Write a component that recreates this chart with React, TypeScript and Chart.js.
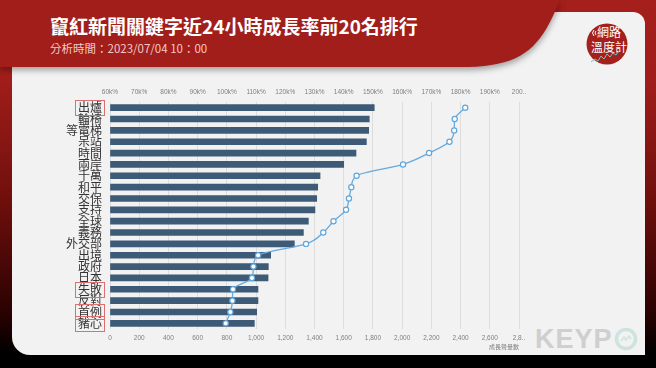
import React, { useEffect, useRef } from "react";
import { Chart, registerables } from "chart.js";

Chart.register(...registerables);

const categories = [
  "出爐", "輪椅", "等電梯", "呆站", "時間", "兩岸", "千萬", "和平", "交保", "支持",
  "全球", "義務", "外交部", "出境", "政府", "日本", "失敗", "反對", "首例", "豬心",
];

// 成長聲量數 (bars, bottom axis)
const volumeValues = [
  1809, 1775, 1771, 1755, 1684, 1600, 1438, 1422, 1415, 1403,
  1358, 1324, 1262, 1100, 1084, 1082, 1013, 1013, 1004, 988,
];

// 成長率 in % (line, top axis)
const growthRates = [
  181600, 178000, 177800, 176200, 169200, 160300, 144400, 142600, 141800, 140800,
  136500, 133000, 127100, 110700, 109100, 108600, 102100, 101900, 101200, 99600,
];

const bottomTickLabels = [
  "0", "200", "400", "600", "800", "1,000", "1,200", "1,400", "1,600", "1,800",
  "2,000", "2,200", "2,400", "2,600", "2,8..",
];

const topTickLabels = [
  "60k%", "70k%", "80k%", "90k%", "100k%", "110k%", "120k%", "130k%", "140k%", "150k%",
  "160k%", "170k%", "180k%", "190k%", "200..",
];

const highlighted = ["出爐", "失敗", "首例", "豬心"];

const CJK = '"Noto Sans CJK TC", "Noto Sans CJK SC", sans-serif';
const labelFont = { family: CJK, size: 12, lineHeight: 1 };
const tickFont = { family: '"Liberation Sans", "DejaVu Sans", sans-serif', size: 6.5 };
const LABEL_PAD = 8;

const highlightPlugin = {
  id: "labelHighlight",
  afterDraw(chart: any) {
    const ys = chart.scales.y;
    const ctx = chart.ctx as CanvasRenderingContext2D;
    ctx.save();
    ctx.font = `${labelFont.size}px ${labelFont.family}`;
    ctx.strokeStyle = "#dc6f6f";
    ctx.lineWidth = 1;
    categories.forEach((c, i) => {
      if (!highlighted.includes(c)) return;
      const y = ys.getPixelForTick(i);
      const w = ctx.measureText(c).width;
      const right = ys.right - LABEL_PAD;
      const x0 = Math.round(right - w - 2.5) + 0.5;
      const y0 = Math.round(y - 7.5) + 0.5;
      ctx.strokeRect(x0, y0, Math.round(w + 5), 15);
    });
    ctx.restore();
  },
};

export default function App() {
  const ref = useRef<HTMLCanvasElement>(null);

  useEffect(() => {
    if (!ref.current) return;
    const chart = new Chart(ref.current, {
      type: "bar",
      data: {
        labels: categories,
        datasets: [
          {
            type: "line",
            label: "成長率",
            data: growthRates,
            xAxisID: "x2",
            yAxisID: "y",
            borderColor: "#64aadf",
            borderWidth: 1.3,
            pointRadius: 2.6,
            pointBorderWidth: 1.2,
            pointBackgroundColor: "#ffffff",
            pointBorderColor: "#5fa6dc",
            cubicInterpolationMode: "monotone",
            fill: false,
            order: 0,
          } as any,
          {
            type: "bar",
            label: "成長聲量數",
            data: volumeValues,
            xAxisID: "x",
            yAxisID: "y",
            backgroundColor: "#3d5a77",
            barThickness: 6,
            order: 1,
          } as any,
        ],
      },
      options: {
        indexAxis: "y",
        responsive: false,
        animation: false,
        layout: { padding: { left: 0, right: 137, top: 0, bottom: 0 } },
        plugins: { legend: { display: false }, tooltip: { enabled: false } },
        scales: {
          y: {
            position: "left",
            grid: { display: false, drawTicks: false },
            border: { display: false },
            ticks: { autoSkip: false, padding: LABEL_PAD, color: "#333333", font: labelFont },
            afterFit: (s: any) => { s.width = 110; },
          },
          x: {
            position: "bottom",
            min: 0,
            max: 2800,
            grid: { color: "#dddddd", drawTicks: false, lineWidth: 1 },
            border: { display: false },
            ticks: {
              stepSize: 200,
              autoSkip: false,
              maxRotation: 0,
              padding: 5,
              color: "#808080",
              font: tickFont,
              callback: (_v: any, i: number) => bottomTickLabels[i],
            },
            title: {
              display: true,
              text: "成長聲量數",
              align: "end",
              color: "#808080",
              font: { family: CJK, size: 6 },
              padding: { top: 0, bottom: 18 },
            },
            afterFit: (s: any) => { s.height = 39; },
          },
          x2: {
            position: "top",
            min: 60000,
            max: 200000,
            grid: { display: false, drawTicks: false },
            border: { display: false },
            ticks: {
              stepSize: 10000,
              autoSkip: false,
              maxRotation: 0,
              padding: 6,
              color: "#808080",
              font: tickFont,
              callback: (_v: any, i: number) => topTickLabels[i],
            },
            afterFit: (s: any) => { s.height = 102; },
          },
        } as any,
      },
      plugins: [highlightPlugin],
    });
    return () => chart.destroy();
  }, []);

  return (
    <div
      style={{
        position: "fixed",
        left: 0,
        top: 0,
        width: 656,
        height: 368,
        overflow: "hidden",
        background:
          "linear-gradient(180deg, #a51f1c 0%, #a01d1a 22%, #6e0f0c 55%, #2a0202 85%, #000000 96%)",
        fontFamily: CJK,
      }}
    >
      {/* content panel */}
      <div
        style={{
          position: "absolute",
          left: 12,
          top: 12,
          width: 633,
          height: 343,
          background: "#f2f2f2",
          borderRadius: "12px 12px 0 18px",
        }}
      />
      {/* header swoosh */}
      <svg
        width={656}
        height={90}
        style={{ position: "absolute", left: 0, top: 0, filter: "drop-shadow(0px 3px 3px rgba(0,0,0,0.35))" }}
      >
        <path d="M0 0 L560 0 C542 44 526 66 468 67 L0 67 Z" fill="#a21e1b" />
      </svg>
      {/* title */}
      <div
        style={{
          position: "absolute",
          left: 50,
          top: 16,
          color: "#ffffff",
          fontSize: 19,
          fontWeight: 700,
          lineHeight: "19px",
          whiteSpace: "nowrap",
        }}
      >
        竄紅新聞關鍵字近24小時成長率前20名排行
      </div>
      <div
        style={{
          position: "absolute",
          left: 50,
          top: 42,
          color: "#f2c9c7",
          fontSize: 11.5,
          lineHeight: "12px",
          whiteSpace: "nowrap",
        }}
      >
        分析時間：2023/07/04 10：00
      </div>
      {/* logo */}
      <svg width={44} height={44} style={{ position: "absolute", left: 585, top: 22 }}>
        <circle cx={22} cy={22} r={20.5} fill="#a3201d" />
        <path d="M9 8 Q6 11 9 14" stroke="#fff" strokeWidth={1} fill="none" />
        <path d="M11 9 Q9 11 11 13" stroke="#fff" strokeWidth={1} fill="none" />
        <text x={12} y={15} fill="#ffffff" fontSize={12} fontFamily={CJK}>網路</text>
        <text x={6} y={30} fill="#ffffff" fontSize={12} fontFamily={CJK}>溫度計</text>
        <polyline
          points="6,40 10,37 13,39 16,34 19,37 22,32 25,35 28,31 31,33 34,29"
          stroke="#6fc7c0"
          strokeWidth={1}
          fill="none"
        />
      </svg>
      {/* KEYPO mark */}
      <div
        style={{
          position: "absolute",
          left: 535,
          top: 326,
          display: "flex",
          alignItems: "center",
          color: "#cfcfcf",
          fontFamily: '"Liberation Sans", Arial, sans-serif',
          fontWeight: 700,
          fontSize: 27,
          lineHeight: "26px",
          letterSpacing: 1,
        }}
      >
        <span>KEYP</span>
        <svg width={24} height={24} style={{ marginLeft: 1 }}>
          <circle cx={12} cy={12} r={9.5} stroke="#cde4de" strokeWidth={3.5} fill="none" />
          <polyline points="7,14 10,10 12,13 15,9 17,12" stroke="#cde4de" strokeWidth={1.5} fill="none" />
        </svg>
      </div>
      <canvas
        ref={ref}
        width={656}
        height={368}
        style={{ position: "absolute", left: 0, top: 0, width: 656, height: 368 }}
      />
    </div>
  );
}
